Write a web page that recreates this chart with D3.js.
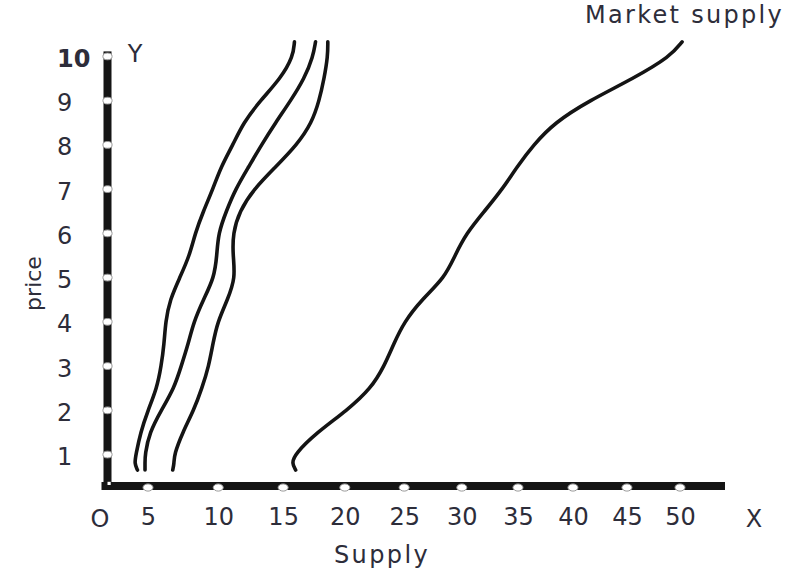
<!DOCTYPE html>
<html>
<head>
<meta charset="utf-8">
<script src="https://cdn.jsdelivr.net/npm/d3@7"></script>
<style>
  body { margin: 0; background: #fff; }
  text { font-family: "DejaVu Sans", sans-serif; fill: #2d2d3a; }
</style>
</head>
<body>
<svg id="chart" width="787" height="576"></svg>
<script>
// ---- data ----
const price = [0.65, 0.8, 1, 1.5, 2, 2.5, 3, 3.5, 4, 4.5, 5, 5.5, 6, 6.5, 7, 7.5, 8, 8.5, 9, 9.5, 10, 10.33];
const supplyA = [4.3, 4.1, 4.2, 4.5, 5.0, 5.6, 5.9, 6.1, 6.2, 6.5, 7.2, 7.9, 8.3, 8.9, 9.6, 10.2, 11.1, 11.9, 13.2, 14.8, 15.8, 15.9];
const supplyB = [4.8, 4.8, 4.8, 5.1, 5.9, 6.8, 7.3, 7.8, 8.2, 8.9, 9.7, 9.9, 10.0, 10.6, 11.3, 12.3, 13.3, 14.4, 15.6, 16.7, 17.4, 17.6];
const supplyC = [6.7, 6.8, 6.8, 7.4, 8.2, 8.8, 9.3, 9.6, 9.95, 10.7, 11.3, 11.1, 11.1, 11.6, 12.7, 14.4, 16.1, 17.3, 17.9, 18.3, 18.6, 18.6];
const marketSupply = [16.0, 15.7, 15.9, 17.7, 20.2, 22.2, 23.3, 24.1, 25.0, 26.5, 28.5, 29.4, 30.4, 32.0, 33.6, 34.9, 36.4, 38.3, 41.5, 45.6, 49.1, 50.2];
const xTicks = [5, 10, 15, 20, 25, 30, 35, 40, 45, 50];
const yTicks = [1, 2, 3, 4, 5, 6, 7, 8, 9, 10];
const seriesNames = ["Supplier A", "Supplier B", "Supplier C", "Market supply"];

// ---- layout ----
const svg = d3.select("#chart");
const axisX = 107.5;      // vertical axis bar centre
const axisY = 486;        // horizontal axis bar centre
const axisRight = 725;
const barW = 8;

// the drawn axis spacing in the original is slightly compressed towards the right
const x = d3.scalePow().exponent(0.85).domain([5, 50]).range([148, 680]);
const y = d3.scaleLinear().domain([0, 10]).range([498.8, 56.4]);

// ---- curves ----
const line = d3.line()
  .x(d => x(d[0]))
  .y(d => y(d[1]))
  .curve(d3.curveBasis);

const series = [supplyA, supplyB, supplyC, marketSupply].map((vals, i) => ({
  name: seriesNames[i],
  points: vals.map((q, j) => [q, price[j]])
}));

svg.append("g").selectAll("path")
  .data(series)
  .join("path")
  .attr("d", d => line(d.points))
  .attr("fill", "none")
  .attr("stroke", "#141414")
  .attr("stroke-width", 3.6)
  .attr("stroke-linecap", "round")
  .attr("stroke-linejoin", "round");

// ---- axes (thick bars) ----
svg.append("rect")
  .attr("x", axisX - barW / 2).attr("y", y(10) - 5)
  .attr("width", barW).attr("height", axisY + barW / 2 - (y(10) - 5))
  .attr("fill", "#151515");
svg.append("rect")
  .attr("x", 101.5).attr("y", axisY - barW / 2)
  .attr("width", axisRight - 101.5).attr("height", barW)
  .attr("fill", "#151515");
svg.append("rect")
  .attr("x", 107.5).attr("y", 481.8).attr("width", 3.2).attr("height", 3.2)
  .attr("fill", "#fff");

// tick dots
svg.append("g").selectAll("ellipse")
  .data(yTicks).join("ellipse")
  .attr("cx", axisX).attr("cy", d => y(d))
  .attr("rx", 4.6).attr("ry", 3.4)
  .attr("fill", "#fff").attr("stroke", "#9a9a9a").attr("stroke-width", 1);
svg.append("g").selectAll("ellipse")
  .data(xTicks).join("ellipse")
  .attr("cx", d => x(d)).attr("cy", axisY + 1.5)
  .attr("rx", 5).attr("ry", 3.6)
  .attr("fill", "#fff").attr("stroke", "#9a9a9a").attr("stroke-width", 1);

// tick labels via d3 axes
const gx = svg.append("g")
  .attr("transform", `translate(0,${axisY})`)
  .call(d3.axisBottom(x).tickValues(xTicks).tickSize(0).tickPadding(22).tickFormat(d3.format("d")));
gx.select(".domain").remove();
gx.selectAll("text")
  .attr("font-size", 24)
  .attr("font-family", "DejaVu Sans")
  .attr("fill", "#2d2d3a");

const gy = svg.append("g")
  .attr("transform", `translate(${axisX},0)`)
  .call(d3.axisLeft(y).tickValues(yTicks).tickSize(0).tickFormat(d3.format("d")));
gy.select(".domain").remove();
gy.selectAll("text")
  .attr("text-anchor", "start")
  .attr("x", 57 - axisX)
  .attr("dy", "0.42em")
  .attr("font-size", 24)
  .attr("font-family", "DejaVu Sans")
  .attr("font-weight", d => d === 10 ? "bold" : "normal")
  .attr("fill", d => d === 10 ? "#111" : "#2d2d3a");

// ---- other text ----
svg.append("text").attr("x", 100).attr("y", 527).attr("text-anchor", "middle")
  .attr("font-size", 24).text("O");
svg.append("text").attr("x", 754).attr("y", 527).attr("text-anchor", "middle")
  .attr("font-size", 24).text("X");
svg.append("text").attr("x", 135).attr("y", 62).attr("text-anchor", "middle")
  .attr("font-size", 24).text("Y");
svg.append("text").attr("x", 382).attr("y", 563).attr("text-anchor", "middle")
  .attr("font-size", 24).attr("letter-spacing", 2.4).text("Supply");
svg.append("text").attr("x", 585).attr("y", 23).attr("text-anchor", "start")
  .attr("font-size", 24).attr("letter-spacing", 2.3).text("Market supply");
svg.append("text")
  .attr("transform", "translate(41,283.5) rotate(-90)")
  .attr("text-anchor", "middle")
  .attr("font-size", 22).text("price");
</script>
</body>
</html>
